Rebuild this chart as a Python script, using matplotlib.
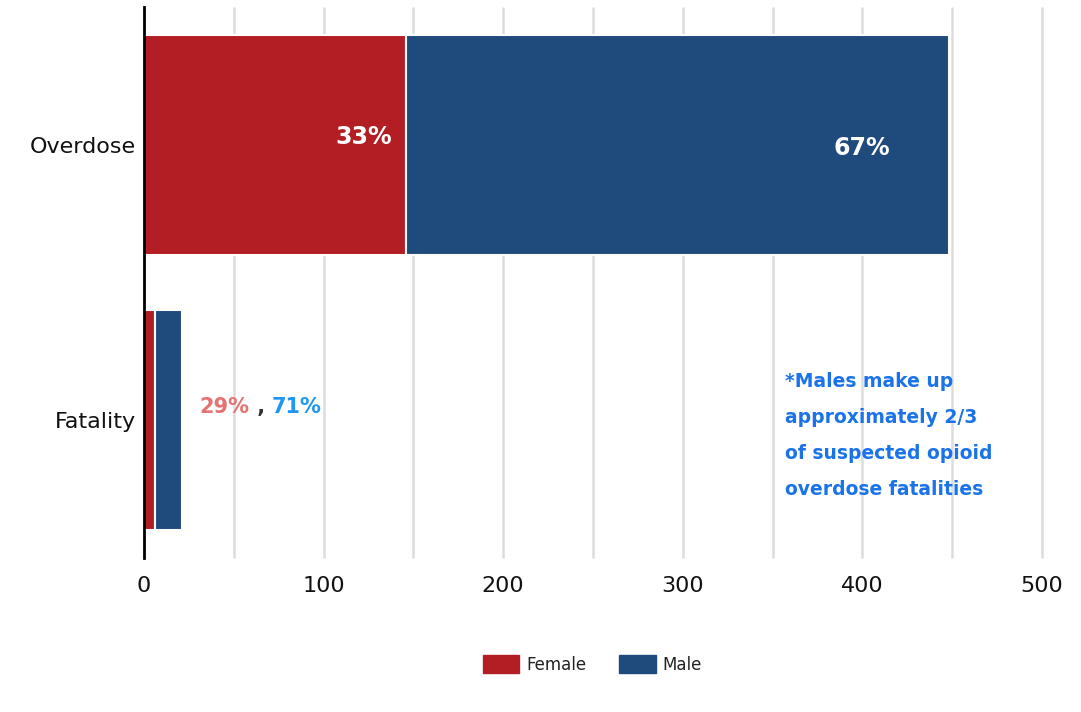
"""
Suspected opioid overdoses and fatalities split by sex, as stacked horizontal bars.
"""

import matplotlib
matplotlib.use("Agg")
import matplotlib.pyplot as plt
import matplotlib.patches as mpatches
import numpy as np


# ---------------------------------------------------------------------------
# Data
# ---------------------------------------------------------------------------
CATEGORIES = ["Fatality", "Overdose"]
FEMALE = [6, 146]
MALE = [15, 302]

FEMALE_COLOR = "#b21e24"
MALE_COLOR = "#1f4a7c"
GRID_COLOR = "#dddddd"
NOTE_COLOR = "#1a73e8"

plt.rcParams["font.family"] = ["DejaVu Sans"]


def _pct(part, whole):
    return f"{round(100 * part / whole)}%"


fig = plt.figure(figsize=(10.81, 7.12), dpi=100)
ax = fig.add_axes([0.1332, 0.2163, 0.8307, 0.7737])

y = np.arange(len(CATEGORIES))
female = np.array(FEMALE)
male = np.array(MALE)

ax.barh(y, female, height=0.8, color=FEMALE_COLOR, edgecolor="white",
        linewidth=1.5, zorder=2)
ax.barh(y, male, left=female, height=0.8, color=MALE_COLOR, edgecolor="white",
        linewidth=1.5, zorder=2)

ax.set_xlim(0, 500)
ax.set_ylim(-0.5, 1.5)
ax.set_xticks(np.arange(0, 501, 100))
ax.set_yticks(y)
ax.set_yticklabels(CATEGORIES)
ax.tick_params(axis="x", length=0, labelsize=16, pad=13, labelcolor="#111111")
ax.tick_params(axis="y", length=0, labelsize=16, pad=6, labelcolor="#111111")

# vertical grid every 50, unclipped so the line at 500 is drawn in full
ax.vlines(np.arange(50, 501, 50), -0.5, 1.5, color=GRID_COLOR, lw=1.8,
          zorder=0, clip_on=False)

for side in ["top", "right", "bottom"]:
    ax.spines[side].set_visible(False)
ax.spines["left"].set_color("black")
ax.spines["left"].set_linewidth(2)
ax.spines["left"].set_zorder(3)

# ---- Overdose shares inside the bar ---------------------------------------
od_total = female[1] + male[1]
ax.text(female[1] - 8, y[1] + 0.03, _pct(female[1], od_total), ha="right",
        va="center", color="white", fontsize=17, fontweight="bold", zorder=4)
ax.text(female[1] + male[1] * 0.84, y[1] - 0.01, _pct(male[1], od_total),
        ha="center", va="center", color="white", fontsize=17,
        fontweight="bold", zorder=4)

# ---- Fatality shares beside the bar ----------------------------------------
fat_total = female[0] + male[0]
t1 = ax.text(31, y[0] + 0.05, _pct(female[0], fat_total), ha="left",
             va="center", color="#e57373", fontsize=15, fontweight="bold")
t2 = ax.annotate(" , ", xycoords=t1, xy=(1, 0), va="bottom",
                 color="#333333", fontsize=15, fontweight="bold")
ax.annotate(_pct(male[0], fat_total), xycoords=t2, xy=(1, 0), va="bottom",
            color="#2196f3", fontsize=15, fontweight="bold")

# ---- Side note --------------------------------------------------------------
note_lines = ["*Males make up", "approximately 2/3",
              "of suspected opioid", "overdose fatalities"]
for i, line in enumerate(note_lines):
    ax.text(357, y[0] + 0.14 - i * 0.1307, line, ha="left", va="center",
            color=NOTE_COLOR, fontsize=13.5, fontweight="bold")

# ---- Legend -----------------------------------------------------------------
handles = [mpatches.Patch(color=FEMALE_COLOR, label="Female"),
           mpatches.Patch(color=MALE_COLOR, label="Male")]
fig.legend(handles=handles, loc="center", bbox_to_anchor=(0.548, 0.067),
           ncol=2, frameon=False, fontsize=12, handlelength=2.2,
           handleheight=1.3, handletextpad=0.4, columnspacing=2.0,
           labelcolor="#222222")

fig.savefig("out.png", dpi=100, facecolor="white")
